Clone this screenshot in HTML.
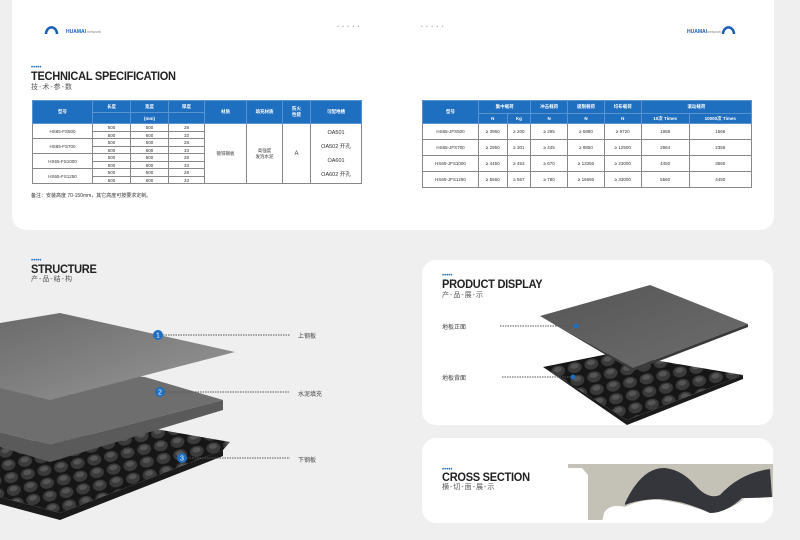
<!DOCTYPE html>
<html><head><meta charset="utf-8"><style>
*{margin:0;padding:0;box-sizing:border-box}
body{width:800px;height:540px;background:#efefef;position:relative;overflow:hidden;font-family:"Liberation Sans","Noto Sans CJK SC",sans-serif;color:#333}
.abs{position:absolute}
.panel{position:absolute;background:#fff}
.title{position:absolute;font-weight:bold;font-size:12px;letter-spacing:-0.3px;color:#222;transform:scaleX(0.92);transform-origin:left}
.sub{position:absolute;font-size:7px;color:#555;letter-spacing:1px}
.dots{position:absolute;font-size:6px;color:#1f6fc0;letter-spacing:0px;line-height:4px}
table{border-collapse:collapse;position:absolute;font-size:4.5px;color:#333;text-align:center}
th{background:#1f6fc0;color:#fff;font-weight:bold;border:0.5px solid #5a94d0}
td{border:0.5px solid #888;background:#fff}
.lbl{position:absolute;font-size:6px;color:#444}
</style></head><body>
<div class="panel" style="left:12px;top:0;width:762px;height:230px;border-radius:0 0 14px 14px"></div>
<svg class="abs" style="left:44px;top:22px" width="70" height="14"><path d="M2 12 A5 6 0 0 1 13 12" stroke="#1a5fb4" stroke-width="2.5" fill="none"/><text x="22" y="11" font-size="5" font-weight="bold" fill="#1a5fb4" font-family="Liberation Sans">HUAMAI</text><text x="43" y="11" font-size="4" fill="#888" font-family="Liberation Sans">network</text></svg>
<div class="abs" style="left:337px;top:24px;font-size:5px;color:#aaa;letter-spacing:1px">• • • • •</div>
<div class="abs" style="left:421px;top:24px;font-size:5px;color:#aaa;letter-spacing:1px">• • • • •</div>
<svg class="abs" style="left:685px;top:22px" width="60" height="14"><text x="2" y="11" font-size="5" font-weight="bold" fill="#1a5fb4" font-family="Liberation Sans">HUAMAI</text><text x="22" y="11" font-size="4" fill="#888" font-family="Liberation Sans">network</text><path d="M38 12 A5 6 0 0 1 49 12" stroke="#1a5fb4" stroke-width="2.5" fill="none"/></svg>

<div class="dots" style="left:31px;top:66px">•••••</div>
<div class="title" style="left:31px;top:69px">TECHNICAL SPECIFICATION</div>
<div class="sub" style="left:31px;top:82px">技-术-参-数</div>

<table style="left:32px;top:100px;width:330px">
<tr style="height:12px"><th rowspan="2" style="width:60px">型号</th><th style="width:38px">长度</th><th style="width:38px">宽度</th><th style="width:36px">厚度</th><th rowspan="2" style="width:42px">材质</th><th rowspan="2" style="width:36px">填充材质</th><th rowspan="2" style="width:28px">防火<br>性能</th><th rowspan="2">可配地槽</th></tr>
<tr style="height:11px"><th></th><th>(mm)</th><th></th></tr>
<tr style="height:8px"><td rowspan="2">HS65-FS500</td><td>500</td><td>500</td><td>28</td><td rowspan="8">镀锌钢板</td><td rowspan="8">高强度<br>发泡水泥</td><td rowspan="8" style="font-size:6px">A</td><td rowspan="8" style="font-size:5.5px;line-height:14px">OA501<br>OA502 开孔<br>OA601<br>OA602 开孔</td></tr>
<tr style="height:7px"><td>600</td><td>600</td><td>33</td></tr>
<tr style="height:8px"><td rowspan="2">HS65-FS700</td><td>500</td><td>500</td><td>28</td></tr>
<tr style="height:7px"><td>600</td><td>600</td><td>33</td></tr>
<tr style="height:8px"><td rowspan="2">HS65-FS1000</td><td>500</td><td>500</td><td>28</td></tr>
<tr style="height:7px"><td>600</td><td>600</td><td>33</td></tr>
<tr style="height:8px"><td rowspan="2">HS65-FS1250</td><td>500</td><td>500</td><td>28</td></tr>
<tr style="height:7px"><td>600</td><td>600</td><td>33</td></tr>
</table>
<div class="abs" style="left:31px;top:192px;font-size:5px;color:#333">备注：安装高度 70-150mm，其它高度可按要求定制。</div>

<table style="left:422px;top:100px;width:330px">
<tr style="height:13px"><th rowspan="2" style="width:56px">型号</th><th colspan="2">集中载荷</th><th>冲击载荷</th><th>极限载荷</th><th>均布载荷</th><th colspan="2">滚动载荷</th></tr>
<tr style="height:10px"><th>N</th><th>Kg</th><th>N</th><th>N</th><th>N</th><th>10次 Times</th><th>10000次 Times</th></tr>
<tr style="height:16px"><td>HS65-JFS500</td><td>≥ 3960</td><td>≥ 200</td><td>≥ 295</td><td>≥ 5880</td><td>≥ 9720</td><td>1958</td><td>1566</td></tr>
<tr style="height:16px"><td>HS65-JFS700</td><td>≥ 2950</td><td>≥ 301</td><td>≥ 445</td><td>≥ 8850</td><td>≥ 12500</td><td>2964</td><td>2356</td></tr>
<tr style="height:16px"><td>HS65-JFS1000</td><td>≥ 4450</td><td>≥ 453</td><td>≥ 670</td><td>≥ 13350</td><td>≥ 23000</td><td>4450</td><td>3560</td></tr>
<tr style="height:16px"><td>HS65-JFS1250</td><td>≥ 5560</td><td>≥ 567</td><td>≥ 780</td><td>≥ 16680</td><td>≥ 33000</td><td>5560</td><td>4450</td></tr>
</table>

<div class="dots" style="left:31px;top:259px">•••••</div>
<div class="title" style="left:31px;top:262px">STRUCTURE</div>
<div class="sub" style="left:31px;top:274px">产-品-结-构</div>
<svg class="abs" style="left:0;top:300px" width="400" height="240">
<defs>
<pattern id="bp" width="17" height="13" patternUnits="userSpaceOnUse" patternTransform="rotate(-12)"><rect width="17" height="13" fill="#161616"/><ellipse cx="8" cy="7" rx="7" ry="5.5" fill="#3a3a3a"/><ellipse cx="8" cy="5.5" rx="4" ry="2.5" fill="#555"/></pattern>
<linearGradient id="tg" x1="0" y1="0" x2="1" y2="1"><stop offset="0" stop-color="#6a6a6a"/><stop offset="1" stop-color="#999"/></linearGradient>
<linearGradient id="pg" x1="0" y1="0" x2="1" y2="1"><stop offset="0" stop-color="#555"/><stop offset="1" stop-color="#6e6e6e"/></linearGradient>
</defs>
<polygon points="0,145 150,128 230,142 223,150 60,213 0,197" fill="url(#bp)"/>
<polygon points="0,197 60,213 223,150 223,156 60,220 0,204" fill="#1a1a1a"/>
<polygon points="0,65 145,77 223,100 50,145 0,132" fill="#6e6e6e"/>
<polygon points="0,132 50,145 223,100 223,110 50,162 0,147" fill="#5a5a5a"/>
<polygon points="0,23 60,13 235,52 50,100 0,88" fill="url(#tg)"/>
<line x1="158" y1="35" x2="290" y2="35" stroke="#555" stroke-dasharray="1.5,1"/>
<line x1="160" y1="92" x2="290" y2="92" stroke="#555" stroke-dasharray="1.5,1"/>
<line x1="182" y1="158" x2="290" y2="158" stroke="#555" stroke-dasharray="1.5,1"/>
<circle cx="158" cy="35" r="5" fill="#1f6fc0"/><text x="158" y="37.5" font-size="7" fill="#fff" text-anchor="middle" font-family="Liberation Sans">1</text>
<circle cx="160" cy="92" r="5" fill="#1f6fc0"/><text x="160" y="94.5" font-size="7" fill="#fff" text-anchor="middle" font-family="Liberation Sans">2</text>
<circle cx="182" cy="158" r="5" fill="#1f6fc0"/><text x="182" y="160.5" font-size="7" fill="#fff" text-anchor="middle" font-family="Liberation Sans">3</text>
</svg>
<div class="lbl" style="left:298px;top:331px">上钢板</div>
<div class="lbl" style="left:298px;top:389px">水泥填充</div>
<div class="lbl" style="left:298px;top:455px">下钢板</div>

<div class="panel" style="left:422px;top:260px;width:351px;height:165px;border-radius:14px"></div>
<div class="dots" style="left:442px;top:274px">•••••</div>
<div class="title" style="left:442px;top:277px">PRODUCT DISPLAY</div>
<div class="sub" style="left:442px;top:290px">产-品-展-示</div>
<svg class="abs" style="left:422px;top:260px" width="351" height="165">
<polygon points="121,107 191,93 321,115 205,160" fill="url(#bp)"/>
<polygon points="121,107 205,160 321,115 321,119 205,165" fill="#1a1a1a"/>
<polygon points="118,56 228,25 326,64 211,108" fill="url(#pg)"/>
<polygon points="118,56 211,108 326,64 326,67 211,111" fill="#3a3a3a"/>
<line x1="78" y1="66" x2="154" y2="66" stroke="#555" stroke-dasharray="1.5,1"/>
<line x1="80" y1="117" x2="151" y2="117" stroke="#555" stroke-dasharray="1.5,1"/>
<circle cx="154" cy="66" r="2.5" fill="#1f6fc0"/><circle cx="151" cy="117" r="2.5" fill="#1f6fc0"/>
</svg>
<div class="lbl" style="left:442px;top:322px">地板正面</div>
<div class="lbl" style="left:442px;top:373px">地板背面</div>

<div class="panel" style="left:422px;top:438px;width:351px;height:85px;border-radius:14px"></div>
<div class="dots" style="left:442px;top:468px">•••••</div>
<div class="title" style="left:442px;top:470px">CROSS SECTION</div>
<div class="sub" style="left:442px;top:482px">横-切-面-展-示</div>
<svg class="abs" style="left:560px;top:455px" width="214" height="65">
<path d="M8 9 H213 V42 Q200 43 185 43 Q170 56 150 58 Q125 48 100 45 Q80 44 65 52 Q50 48 44 58 L40 77 H28 V20 L22 13 H8Z" fill="#c4c1b7"/>
<path d="M65 48 Q82 12 105 13 Q122 15 135 30 Q148 45 160 40 Q180 18 210 14 L212 42 Q195 43 182 43 Q166 58 150 58 Q125 46 100 44 Q80 44 65 50Z" fill="#34363b"/>
</svg>
</body></html>
